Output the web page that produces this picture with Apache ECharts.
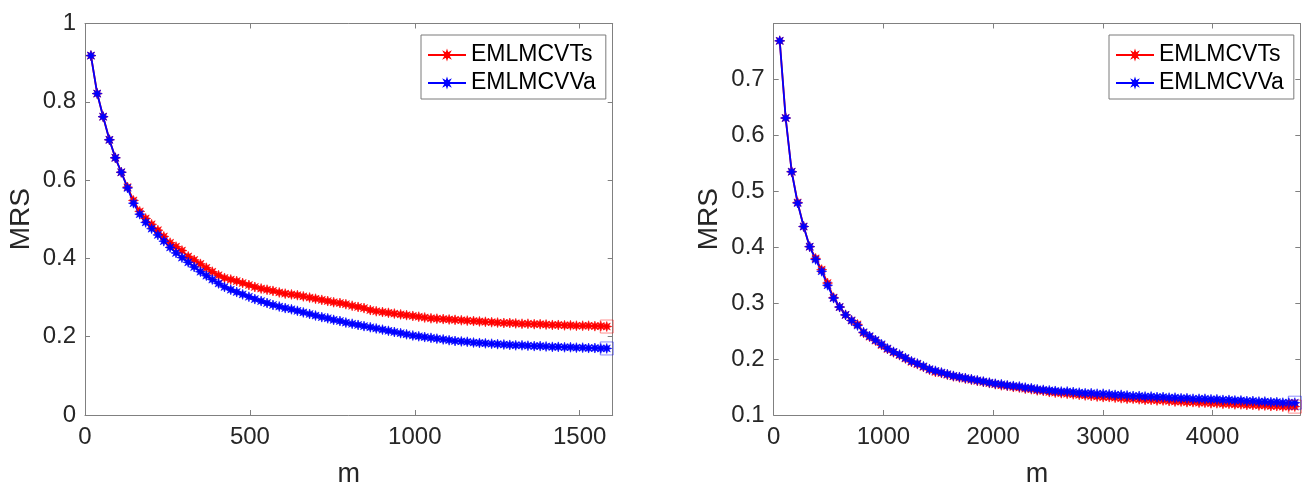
<!DOCTYPE html>
<html>
<head>
<meta charset="utf-8">
<script src="https://cdn.jsdelivr.net/npm/echarts@6/dist/echarts.min.js"></script>
<style>
html,body{margin:0;padding:0;background:#fff;}
#chart{width:1302px;height:493px;}
</style>
</head>
<body>
<div id="chart"></div>
<script>
// ---------- DATA ----------
const seriesNames = ['EMLMCVTs', 'EMLMCVVa'];

// Left panel
const mLeft = [18,37,55,74,92,110,129,147,166,184,202,221,239,258,276,294,313,331,350,368,
  386,405,423,442,460,478,497,515,534,552,570,589,607,626,644,662,681,699,718,736,
  754,773,791,810,828,846,865,883,902,920,938,957,975,994,1012,1030,1049,1067,1086,1104,
  1122,1141,1159,1178,1196,1214,1233,1251,1270,1288,1306,1325,1343,1362,1380,1398,1417,1435,1454,1472,
  1490,1509,1527,1546,1564,1582];
const tsLeft = [0.918,0.821,0.762,0.703,0.657,0.620,0.582,0.548,0.520,0.502,0.487,0.472,0.456,0.440,0.430,0.420,0.405,0.396,0.386,0.376,
  0.366,0.357,0.350,0.346,0.342,0.337,0.332,0.327,0.323,0.320,0.317,0.313,0.310,0.308,0.306,0.303,0.300,0.297,0.294,0.291,
  0.288,0.286,0.283,0.279,0.276,0.273,0.268,0.265,0.263,0.261,0.259,0.257,0.255,0.253,0.251,0.249,0.247,0.246,0.245,0.244,
  0.243,0.242,0.241,0.240,0.239,0.238,0.237,0.236,0.235,0.235,0.234,0.233,0.233,0.232,0.232,0.231,0.230,0.230,0.229,0.229,
  0.228,0.228,0.228,0.227,0.227,0.226];
const vaLeft = [0.918,0.821,0.762,0.703,0.657,0.620,0.580,0.541,0.513,0.492,0.476,0.460,0.444,0.428,0.414,0.402,0.390,0.378,0.366,0.356,
  0.346,0.336,0.327,0.320,0.314,0.308,0.302,0.296,0.291,0.286,0.281,0.277,0.273,0.270,0.266,0.262,0.258,0.254,0.250,0.247,
  0.243,0.240,0.236,0.233,0.230,0.227,0.224,0.221,0.218,0.215,0.212,0.209,0.206,0.203,0.201,0.199,0.197,0.195,0.193,0.191,
  0.189,0.188,0.187,0.185,0.184,0.183,0.182,0.181,0.180,0.179,0.178,0.178,0.177,0.176,0.176,0.175,0.174,0.174,0.173,0.173,
  0.172,0.172,0.171,0.171,0.170,0.170];

// Right panel
const mRight = [55,109,164,218,273,328,382,437,491,546,601,655,710,764,819,874,928,983,1037,1092,
  1147,1201,1256,1310,1365,1420,1474,1529,1583,1638,1693,1747,1802,1856,1911,1966,2020,2075,2129,2184,
  2239,2293,2348,2402,2457,2512,2566,2621,2675,2730,2785,2839,2894,2948,3003,3058,3112,3167,3221,3276,
  3331,3385,3440,3494,3549,3604,3658,3713,3767,3822,3877,3931,3986,4040,4095,4150,4204,4259,4313,4368,
  4423,4477,4532,4586,4641,4696,4750];
const tsRight = [0.769,0.631,0.535,0.480,0.437,0.401,0.380,0.360,0.336,0.310,0.293,0.279,0.269,0.262,0.247,0.240,0.233,0.225,0.218,0.212,
  0.207,0.201,0.195,0.191,0.186,0.181,0.177,0.175,0.172,0.169,0.167,0.165,0.163,0.161,0.159,0.157,0.155,0.153,0.152,0.150,
  0.149,0.147,0.146,0.144,0.143,0.141,0.140,0.139,0.138,0.137,0.136,0.135,0.134,0.133,0.132,0.132,0.131,0.130,0.129,0.129,
  0.128,0.127,0.127,0.126,0.126,0.125,0.124,0.124,0.123,0.123,0.122,0.122,0.121,0.121,0.120,0.120,0.119,0.119,0.118,0.118,
  0.117,0.117,0.116,0.116,0.115,0.115,0.115];
const vaRight = [0.769,0.631,0.535,0.479,0.437,0.401,0.378,0.357,0.332,0.309,0.293,0.279,0.269,0.260,0.248,0.241,0.234,0.2265,0.219,0.213,
  0.208,0.202,0.196,0.192,0.187,0.182,0.179,0.176,0.173,0.170,0.168,0.166,0.164,0.162,0.160,0.158,0.156,0.155,0.153,0.152,
  0.151,0.149,0.148,0.146,0.145,0.144,0.143,0.142,0.142,0.141,0.140,0.139,0.139,0.138,0.138,0.137,0.136,0.136,0.135,0.134,
  0.134,0.133,0.133,0.132,0.132,0.131,0.131,0.130,0.130,0.129,0.129,0.129,0.128,0.128,0.127,0.127,0.126,0.126,0.125,0.125,
  0.124,0.124,0.123,0.123,0.122,0.122,0.122];

const xTicksLeft = {min: 0, max: 1600, interval: 500};
const yTicksLeft = {min: 0, max: 1, interval: 0.2};
const xTicksRight = {min: 0, max: 4800, interval: 1000};
const yTicksRight = {min: 0.1, max: 0.8, interval: 0.1};

// ---------- STYLE ----------
const FONT = '"Liberation Sans", Arial, Helvetica, sans-serif';
const TXT = '#262626';
const AX = '#808080';
const RED = '#ff0000';
const BLUE = '#0000ff';
const STAR = 'path://M20,10 L14.2,11.9 L17.07,17.07 L11.9,14.2 L10,20 L8.1,14.2 L2.93,17.07 L5.8,11.9 L0,10 L5.8,8.1 L2.93,2.93 L8.1,5.8 L10,0 L11.9,5.8 L17.07,2.93 L14.2,8.1 Z';

const chart = echarts.init(document.getElementById('chart'), null, {renderer: 'canvas'});

const fmt = v => String(+v.toFixed(3));

function mainX(grid, t) {
  return {
    type: 'value', gridIndex: grid, position: 'bottom',
    min: t.min, max: t.max, interval: t.interval,
    name: 'm', nameLocation: 'middle', nameGap: 46,
    nameTextStyle: {fontFamily: FONT, fontSize: 27, color: TXT, lineHeight: 27},
    axisLine: {show: true, onZero: false, lineStyle: {color: AX, width: 1}},
    axisTick: {show: true, inside: true, length: 5, lineStyle: {color: AX}},
    axisLabel: {show: true, showMaxLabel: false, margin: 10, fontFamily: FONT, fontSize: 24, color: TXT, formatter: fmt},
    splitLine: {show: false}
  };
}
function topX(grid, t) {
  return {
    type: 'value', gridIndex: grid, position: 'top',
    min: t.min, max: t.max, interval: t.interval,
    axisLine: {show: true, onZero: false, lineStyle: {color: AX, width: 1}},
    axisTick: {show: true, inside: true, length: 5, lineStyle: {color: AX}},
    axisLabel: {show: false}, splitLine: {show: false}
  };
}
function mainY(grid, t) {
  return {
    type: 'value', gridIndex: grid, position: 'left',
    min: t.min, max: t.max, interval: t.interval,
    name: 'MRS', nameLocation: 'middle', nameGap: 50,
    nameTextStyle: {fontFamily: FONT, fontSize: 28, color: TXT, lineHeight: 28},
    axisLine: {show: true, onZero: false, lineStyle: {color: AX, width: 1}},
    axisTick: {show: true, inside: true, length: 5, lineStyle: {color: AX}},
    axisLabel: {show: true, showMaxLabel: grid === 0, margin: 9, fontFamily: FONT, fontSize: 24, color: TXT, formatter: fmt},
    splitLine: {show: false}
  };
}
function rightY(grid, t) {
  return {
    type: 'value', gridIndex: grid, position: 'right',
    min: t.min, max: t.max, interval: t.interval,
    axisLine: {show: true, onZero: false, lineStyle: {color: AX, width: 1}},
    axisTick: {show: true, inside: true, length: 5, lineStyle: {color: AX}},
    axisLabel: {show: false}, splitLine: {show: false}
  };
}

function lineSeries(name, color, ms, vs, xi, yi) {
  const data = ms.map((m, i) => [m, vs[i]]);
  const last = data[data.length - 1];
  return {
    type: 'line', name: name, xAxisIndex: xi, yAxisIndex: yi,
    data: data,
    symbol: STAR, symbolSize: 10, showAllSymbol: true,
    lineStyle: {color: color, width: 1.8},
    itemStyle: {color: color, borderColor: color, borderWidth: 0.6},
    emphasis: {disabled: true},
    clip: false,
    markPoint: {
      symbol: 'rect', symbolSize: 13, silent: true,
      label: {show: false},
      itemStyle: {color: 'rgba(0,0,0,0)', borderColor: color === RED ? 'rgba(255,0,0,0.45)' : 'rgba(0,0,255,0.45)', borderWidth: 1},
      data: [{coord: last}]
    }
  };
}

function legendAt(left) {
  return {
    orient: 'vertical', left: left, top: 35,
    data: seriesNames,
    backgroundColor: '#ffffff', borderColor: '#7a7a7a', borderWidth: 1, borderRadius: 0,
    padding: [8, 10, 4, 6], itemGap: 4, itemWidth: 38, itemHeight: 8,
    textStyle: {fontFamily: FONT, fontSize: 23, color: '#000', lineHeight: 24},
    selectedMode: false
  };
}

const option = {
  animation: false,
  backgroundColor: '#ffffff',
  grid: [
    {left: 85, top: 23.5, width: 527.7, height: 396.5, containLabel: false},
    {left: 773.7, top: 23.5, width: 526.6, height: 396.5, containLabel: false}
  ],
  xAxis: [mainX(0, xTicksLeft), topX(0, xTicksLeft), mainX(1, xTicksRight), topX(1, xTicksRight)],
  yAxis: [mainY(0, yTicksLeft), rightY(0, yTicksLeft), mainY(1, yTicksRight), rightY(1, yTicksRight)],
  legend: [legendAt(421), legendAt(1109)],
  series: [
    lineSeries(seriesNames[0], RED, mLeft, tsLeft, 0, 0),
    lineSeries(seriesNames[1], BLUE, mLeft, vaLeft, 0, 0),
    lineSeries(seriesNames[0], RED, mRight, tsRight, 2, 2),
    lineSeries(seriesNames[1], BLUE, mRight, vaRight, 2, 2)
  ]
};
chart.setOption(option);
</script>
</body>
</html>
